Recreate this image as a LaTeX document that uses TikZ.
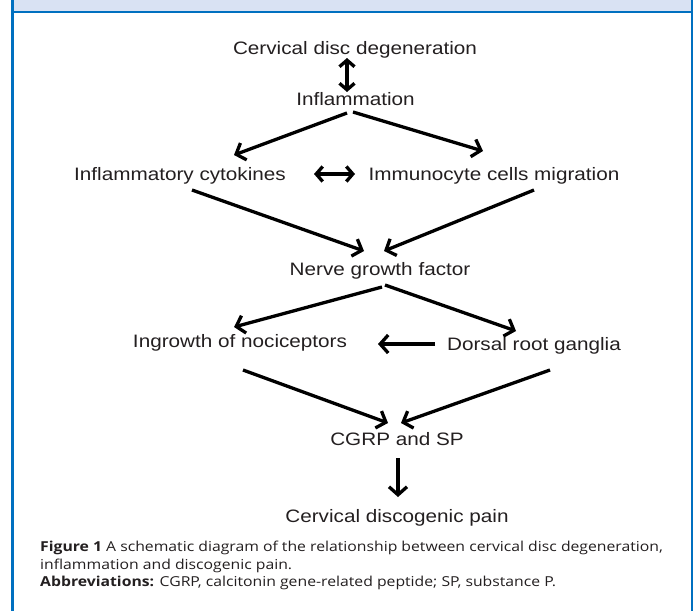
\documentclass[tikz,border=0pt]{standalone}
\usepackage{fontspec}
\setmainfont{Liberation Sans}
\newfontfamily\diagfont[FakeStretch=1.15]{Liberation Sans}
\newfontfamily\capfont[FakeStretch=1.15]{Open Sans}
\usetikzlibrary{arrows.meta}

\definecolor{frameblue}{RGB}{0,112,192}
\definecolor{bandblue}{RGB}{217,226,243}
\definecolor{captext}{RGB}{35,31,32}

\tikzset{
  stage/.style={font=\diagfont\fontsize{18}{20}\selectfont, text=captext, inner sep=0pt, anchor=base},
  flow/.style={line width=3.3pt, -{Straight Barb[length=8pt,width=18pt]}},
  twoway/.style={line width=3.3pt, {Straight Barb[length=6.5pt,width=15pt]}-{Straight Barb[length=6.5pt,width=15pt]}},
  captext/.style={font=\capfont\fontsize{13.7}{17.5}\selectfont, text=captext, inner sep=0pt, align=left, anchor=north west}
}

\begin{document}
\begin{tikzpicture}[x=1pt,y=-1pt]
\useasboundingbox (0,0) rectangle (695,611);
% frame
\fill[bandblue] (12.5,0) rectangle (692,12);
\draw[frameblue, line width=2.5pt] (12.5,12) -- (692,12);
\draw[frameblue, line width=2.5pt] (12.5,0) -- (12.5,611);
\draw[frameblue, line width=2.5pt] (692,0) -- (692,611);

\node[stage] (degen) at (355,54) {Cervical disc degeneration};
\node[stage] (infl) at (355.5,105) {Inflammation};
\node[stage] (cyto) at (180,180) {Inflammatory cytokines};
\node[stage] (immu) at (494,180) {Immunocyte cells migration};
\node[stage] (ngf) at (380,275) {Nerve growth factor};
\node[stage] (ingr) at (240,347) {Ingrowth of nociceptors};
\node[stage] (drg) at (534,350) {Dorsal root ganglia};
\node[stage] (cgrp) at (397,445) {CGRP and SP};
\node[stage] (pain) at (397,522) {Cervical discogenic pain};

\draw[twoway] ([shift={(-8,4)}]degen.base) -- ([shift={(-8.5,-13)}]infl.base);
\draw[flow] ([shift={(-8.5,8)}]infl.base) -- ([shift={(54,-25)}]cyto.base);
\draw[flow] ([shift={(-2.5,7)}]infl.base) -- ([shift={(-11,-29)}]immu.base);
\draw[twoway] ([shift={(134,-6)}]cyto.base) -- ([shift={(-139,-6)}]immu.base);
\draw[flow] ([shift={(12,10)}]cyto.base) -- ([shift={(-16,-24)}]ngf.base);
\draw[flow] ([shift={(40,10)}]immu.base) -- ([shift={(4,-24)}]ngf.base);
\draw[flow] ([shift={(2,12)}]ngf.base) -- ([shift={(-6,-20)}]ingr.base);
\draw[flow] ([shift={(5,10)}]ngf.base) -- ([shift={(-18,-19)}]drg.base);
\draw[flow] ([shift={(-99,-6)}]drg.base) -- ([shift={(138,-3)}]ingr.base);
\draw[flow] ([shift={(3,23)}]ingr.base) -- ([shift={(-9,-22)}]cgrp.base);
\draw[flow] ([shift={(16,20)}]drg.base) -- ([shift={(4,-22)}]cgrp.base);
\draw[flow] ([shift={(1,13)}]cgrp.base) -- ([shift={(1,-25)}]pain.base);

\node[captext] (caption) at (40,541) {\textbf{Figure 1} A schematic diagram of the relationship between cervical disc degeneration,\\
inflammation and discogenic pain.\\
\textbf{Abbreviations:} CGRP, calcitonin gene-related peptide; SP, substance P.};
\end{tikzpicture}
\end{document}
